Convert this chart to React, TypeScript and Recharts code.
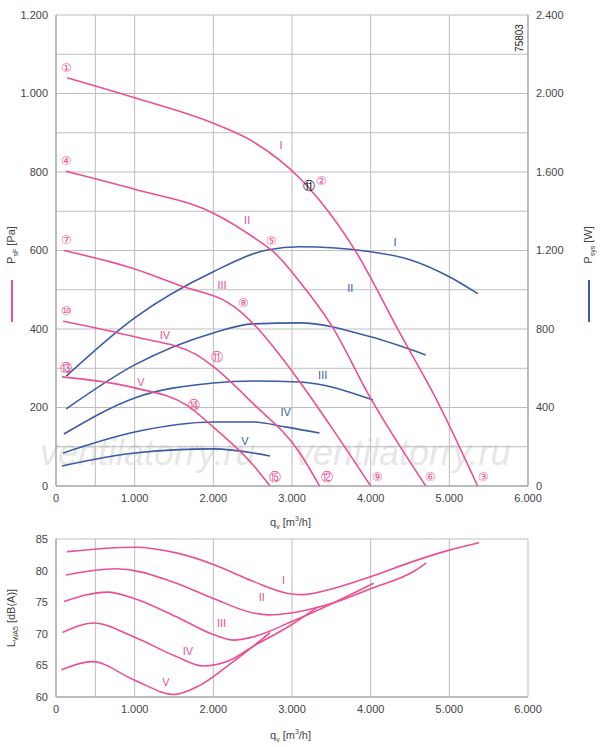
import React from 'react';
import {
  ComposedChart,
  Line,
  XAxis,
  YAxis,
  CartesianGrid,
  ReferenceDot,
} from 'recharts';

const PINK = '#ec4f94';
const BLUE = '#3b5ba6';
const GRID = '#bdbdbd';
const FONT = '"Liberation Sans", Arial, sans-serif';

type Pt = { q: number; v: number };
const pts = (a: number[][]): Pt[] => a.map(([q, v]) => ({ q, v }));

// pressure curves P_sF [Pa]
const pressureI = pts([[140, 1040], [1000, 989], [2000, 924], [2500, 878], [3100, 784], [3350, 728], [3800, 601], [4370, 390], [4840, 219], [5360, 0]]);
const pressureII = pts([[125, 802], [1000, 756], [2000, 695], [2500, 635], [2800, 590], [3100, 520], [3500, 410], [3990, 227], [4700, 0]]);
const pressureIII = pts([[100, 600], [1000, 553], [1615, 508], [2170, 469], [2340, 445], [2500, 415], [3100, 265], [3500, 150], [4000, 0]]);
const pressureIV = pts([[90, 420], [1000, 380], [1790, 334], [2000, 304], [2500, 211], [3100, 84], [3350, 0]]);
const pressureV = pts([[75, 278], [1000, 250], [1660, 206], [2000, 150], [2500, 55], [2720, 0]]);

// power curves P_sys [W]
const powerI = pts([[130, 560], [1000, 857], [2000, 1092], [2700, 1204], [3100, 1219], [4000, 1194], [4500, 1153], [5000, 1066], [5360, 980]]);
const powerII = pts([[130, 393], [1000, 617], [2000, 780], [2500, 826], [3100, 831], [4000, 760], [4700, 668]]);
const powerIII = pts([[100, 265], [1000, 449], [2000, 525], [2500, 535], [3100, 530], [4030, 438]]);
const powerIV = pts([[90, 168], [1000, 275], [2000, 326], [2500, 326], [2930, 300], [3350, 270]]);
const powerV = pts([[75, 102], [1000, 168], [2000, 189], [2720, 153]]);

// sound power L_WA5 [dB(A)]
const noiseI = pts([[141, 83.0], [994, 83.7], [1530, 82.8], [2017, 80.9], [2504, 78.3], [2990, 76.3], [3137, 76.2], [3478, 77.0], [4014, 79.1], [4550, 81.5], [4990, 83.2], [5378, 84.4]]);
const noiseII = pts([[127, 79.3], [750, 80.3], [994, 80.0], [1530, 78.0], [2017, 75.5], [2504, 73.3], [2698, 73.0], [2990, 73.3], [3478, 74.7], [4014, 77.2], [4550, 79.9], [4705, 81.2]]);
const noiseIII = pts([[102, 75.1], [653, 76.6], [994, 75.6], [1530, 72.7], [2017, 69.8], [2260, 69.0], [2504, 69.5], [2990, 71.9], [3478, 74.6], [4038, 78.0]]);
const noiseIV = pts([[83, 70.2], [482, 71.7], [994, 69.5], [1530, 66.4], [1870, 64.9], [2211, 65.8], [2504, 68.0], [2990, 71.4], [3332, 74.3]]);
const noiseV = pts([[68, 64.3], [458, 65.6], [994, 62.7], [1500, 60.4], [1822, 61.8], [2211, 65.2], [2722, 70.2]]);

const xTicks = [0, 1000, 2000, 3000, 4000, 5000, 6000];
const xGrid = [0, 500, 1000, 1500, 2000, 2500, 3000, 3500, 4000, 4500, 5000, 5500, 6000];
const paTicks = [0, 200, 400, 600, 800, 1000, 1200];
const paGrid = [0, 100, 200, 300, 400, 500, 600, 700, 800, 900, 1000, 1100, 1200];
const wTicks = [0, 400, 800, 1200, 1600, 2000, 2400];
const dbTicks = [60, 65, 70, 75, 80, 85];

// roman labels [q, value, text]
const pinkRoman: [number, number, string][] = [[2860, 870, 'I'], [2430, 678, 'II'], [2110, 512, 'III'], [1385, 385, 'IV'], [1080, 265, 'V']];
const blueRoman: [number, number, string][] = [[4310, 1245, 'I'], [3740, 1010, 'II'], [3390, 566, 'III'], [2920, 377, 'IV'], [2400, 229, 'V']];
const noiseRoman: [number, number, string][] = [[2893, 78.5, 'I'], [2616, 75.8, 'II'], [2104, 71.7, 'III'], [1676, 67.2, 'IV'], [1398, 62.4, 'V']];
// circled operating point markers [q, Pa, text]
const markers: [number, number, string][] = [
  [130, 1065, '①'], [130, 828, '④'], [130, 627, '⑦'], [130, 446, '⑩'], [130, 300, '⑬'],
  [3380, 777, '②'], [2745, 624, '⑤'], [2380, 466, '⑧'], [2050, 329, '⑪'], [1755, 206, '⑭'],
  [2780, 22, '⑮'], [3440, 22, '⑫'], [4090, 22, '⑨'], [4760, 22, '⑥'], [5440, 22, '③'],
];

const fmtK = (v: number) => (v < 1000 ? String(v) : `${Math.floor(v / 1000)}.${String(v % 1000).padStart(3, '0')}`);

const tick = { fontSize: 11, fill: '#444', fontFamily: FONT };

function txt(color: string, text: string, size = 11) {
  return (props: any) => {
    const { cx, cy } = props;
    return (
      <text x={cx} y={cy} fill={color} fontSize={size} fontFamily={FONT} textAnchor="middle" dominantBaseline="central">
        {text}
      </text>
    );
  };
}

const line = (data: Pt[], color: string, axis: string, key: string) => (
  <Line key={key} data={data} dataKey="v" yAxisId={axis} type="monotone" stroke={color} strokeWidth={1.6} dot={false} isAnimationActive={false} />
);

const rot = (x: number, y: number, text: React.ReactNode, extra: React.CSSProperties = {}) => (
  <div style={{ position: 'absolute', left: x, top: y, transform: 'translate(-50%,-50%) rotate(-90deg)', whiteSpace: 'nowrap', fontSize: 11, color: '#444', fontFamily: FONT, ...extra }}>
    {text}
  </div>
);

export default function App() {
  return (
    <div style={{ position: 'absolute', left: 0, top: 0, width: 600, height: 747, background: '#fff', fontFamily: FONT, overflow: 'hidden' }}>
      {/* watermarks */}
      <div style={{ position: 'absolute', left: 40, top: 432, fontSize: 36, fontStyle: 'italic', color: 'rgba(170,170,170,0.3)' }}>ventilatorry.ru</div>
      <div style={{ position: 'absolute', left: 295, top: 432, fontSize: 36, fontStyle: 'italic', color: 'rgba(170,170,170,0.3)' }}>ventilatorry.ru</div>

      <div style={{ position: 'absolute', left: 0, top: 0 }}>
        <ComposedChart width={600} height={520} margin={{ top: 15, right: 8, left: 8, bottom: 12 }}>
          <CartesianGrid stroke={GRID} horizontalValues={paGrid} verticalValues={xGrid} yAxisId="pa" />
          <XAxis type="number" dataKey="q" domain={[0, 6000]} ticks={xTicks} tickFormatter={fmtK} tick={tick} stroke="#999" tickLine={false} height={22} allowDuplicatedCategory={false} />
          <YAxis yAxisId="pa" domain={[0, 1200]} ticks={paTicks} tickFormatter={fmtK} tick={tick} stroke="#999" tickLine={false} width={48} />
          <YAxis yAxisId="w" orientation="right" domain={[0, 2400]} ticks={wTicks} tickFormatter={fmtK} tick={{ ...tick, textAnchor: 'start' }} stroke="#999" tickLine={false} width={64} />
          {line(powerI, BLUE, 'w', 'wI')}
          {line(powerII, BLUE, 'w', 'wII')}
          {line(powerIII, BLUE, 'w', 'wIII')}
          {line(powerIV, BLUE, 'w', 'wIV')}
          {line(powerV, BLUE, 'w', 'wV')}
          {line(pressureI, PINK, 'pa', 'pI')}
          {line(pressureII, PINK, 'pa', 'pII')}
          {line(pressureIII, PINK, 'pa', 'pIII')}
          {line(pressureIV, PINK, 'pa', 'pIV')}
          {line(pressureV, PINK, 'pa', 'pV')}
          {pinkRoman.map(([q, v, t]) => (
            <ReferenceDot key={'pr' + t} yAxisId="pa" x={q} y={v} r={0} shape={txt(PINK, t)} />
          ))}
          {blueRoman.map(([q, v, t]) => (
            <ReferenceDot key={'br' + t} yAxisId="w" x={q} y={v} r={0} shape={txt(BLUE, t)} />
          ))}
          {markers.map(([q, v, t]) => (
            <ReferenceDot key={'m' + t} yAxisId="pa" x={q} y={v} r={0} shape={txt(PINK, t, 12)} />
          ))}
          <ReferenceDot yAxisId="pa" x={3215} y={764} r={0} shape={txt('#111', '⑪', 12)} />
        </ComposedChart>
      </div>

      <div style={{ position: 'absolute', left: 0, top: 525 }}>
        <ComposedChart width={600} height={222} margin={{ top: 14, right: 72, left: 8, bottom: 28 }}>
          <CartesianGrid stroke={GRID} verticalValues={xGrid} />
          <XAxis type="number" dataKey="q" domain={[0, 6000]} ticks={xTicks} tickFormatter={fmtK} tick={tick} stroke="#999" tickLine={false} height={22} allowDuplicatedCategory={false} />
          <YAxis yAxisId="db" domain={[60, 85]} ticks={dbTicks} tick={tick} stroke="#999" tickLine={false} width={48} />
          {line(noiseI, PINK, 'db', 'nI')}
          {line(noiseII, PINK, 'db', 'nII')}
          {line(noiseIII, PINK, 'db', 'nIII')}
          {line(noiseIV, PINK, 'db', 'nIV')}
          {line(noiseV, PINK, 'db', 'nV')}
          {noiseRoman.map(([q, v, t]) => (
            <ReferenceDot key={'nr' + t} yAxisId="db" x={q} y={v} r={0} shape={txt(PINK, t)} />
          ))}
        </ComposedChart>
      </div>

      {/* axis titles */}
      <div style={{ position: 'absolute', left: 270, top: 515, fontSize: 11, color: '#444' }}>q<sub style={{ fontSize: 7 }}>v</sub> [m<sup style={{ fontSize: 7 }}>3</sup>/h]</div>
      <div style={{ position: 'absolute', left: 270, top: 728, fontSize: 11, color: '#444' }}>q<sub style={{ fontSize: 7 }}>v</sub> [m<sup style={{ fontSize: 7 }}>3</sup>/h]</div>
      {rot(12, 245, <span>P<sub style={{ fontSize: 7 }}>sF</sub> [Pa]</span>)}
      <div style={{ position: 'absolute', left: 11, top: 280, width: 2, height: 42, background: PINK }} />
      {rot(589, 245, <span>P<sub style={{ fontSize: 7 }}>sys</sub> [W]</span>)}
      <div style={{ position: 'absolute', left: 588, top: 280, width: 2, height: 42, background: BLUE }} />
      {rot(12, 618, <span>L<sub style={{ fontSize: 7 }}>WA5</sub> [dB(A)]</span>)}
      {rot(519, 38, '75803', { fontSize: 10, color: '#222' })}
    </div>
  );
}
